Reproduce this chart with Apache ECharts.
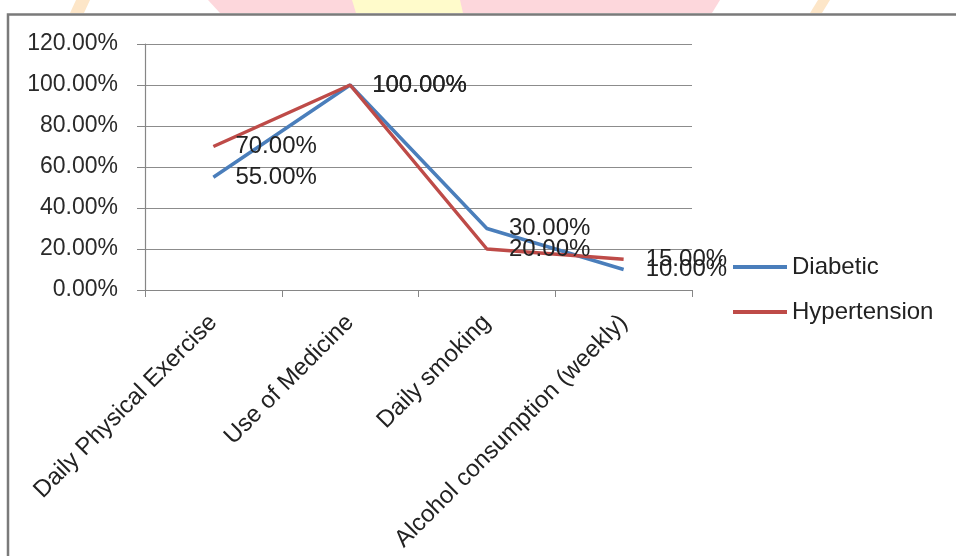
<!DOCTYPE html>
<html>
<head>
<meta charset="utf-8">
<script src="https://cdn.jsdelivr.net/npm/echarts@6/dist/echarts.min.js"></script>
<style>
  html, body { margin: 0; padding: 0; background: #fff; }
  #chart { width: 956px; height: 556px; }
</style>
</head>
<body>
<div id="chart"></div>
<script>
// categories and values (percent)
var categories = ['Daily Physical Exercise', 'Use of Medicine', 'Daily smoking', 'Alcohol consumption (weekly)']
var diabetic = [55, 100, 30, 10]
var hypertension = [70, 100, 20, 15]
var yTicks = [0, 20, 40, 60, 80, 100, 120]

var FONT = 'Liberation Sans'
var pct = function (v) { return Number(v).toFixed(2) + '%' }

var chart = echarts.init(document.getElementById('chart'), null, { renderer: 'canvas' })

var lineSeries = function (name, data, color) {
  return {
    name: name,
    type: 'line',
    data: data,
    symbol: 'circle',
    symbolSize: 0.1,
    showSymbol: true,
    lineStyle: { color: color, width: 3.5 },
    itemStyle: { color: color },
    label: {
      show: true,
      position: 'right',
      distance: 22,
      offset: [0, 2],
      color: '#222',
      fontFamily: FONT,
      fontSize: 24,
      formatter: function (p) { return pct(p.value) }
    },
    labelLayout: { hideOverlap: false },
    animation: false
  }
}

chart.setOption({
  backgroundColor: '#fff',
  animation: false,
  graphic: [
    // faint watermark strip above the chart frame
    { type: 'polygon', z: -10, shape: { points: [[76, 0], [90, 0], [84, 13], [70, 13]] }, style: { fill: '#fde6c8' } },
    { type: 'polygon', z: -10, shape: { points: [[208, 0], [720, 0], [712, 13], [220, 13]] }, style: { fill: '#fdd7dc' } },
    { type: 'polygon', z: -9, shape: { points: [[352, 0], [460, 0], [463, 13], [356, 13]] }, style: { fill: '#fffbcb' } },
    { type: 'polygon', z: -10, shape: { points: [[818, 0], [830, 0], [822, 13], [810, 13]] }, style: { fill: '#fde6c8' } },
    // chart frame
    { type: 'rect', z: -5, shape: { x: 8, y: 14.5, width: 1000, height: 600 }, style: { fill: '#fff', stroke: '#7a7a7a', lineWidth: 2.5 } }
  ],
  grid: { left: 145, top: 44, width: 547, height: 246, containLabel: false },
  legend: {
    orient: 'vertical',
    left: 728,
    top: 250,
    itemWidth: 54,
    itemHeight: 4,
    itemGap: 21,
    icon: 'rect',
    textStyle: { fontFamily: FONT, fontSize: 24, color: '#222' },
    data: ['Diabetic', 'Hypertension']
  },
  xAxis: {
    type: 'category',
    data: categories,
    boundaryGap: true,
    axisLine: { lineStyle: { color: '#868686', width: 1.2 } },
    axisTick: { show: true, length: 7, lineStyle: { color: '#868686' } },
    axisLabel: {
      interval: 0,
      rotate: 45,
      margin: 29,
      color: '#222',
      fontFamily: FONT,
      fontSize: 24
    }
  },
  yAxis: {
    type: 'value',
    min: yTicks[0],
    max: yTicks[yTicks.length - 1],
    interval: 20,
    axisLine: { show: true, lineStyle: { color: '#868686', width: 1.2 } },
    axisTick: { show: true, length: 8, lineStyle: { color: '#868686' } },
    splitLine: { lineStyle: { color: '#8c8c8c', width: 1.2 } },
    axisLabel: {
      margin: 27,
      color: '#2a2a2a',
      fontFamily: FONT,
      fontSize: 23,
      formatter: pct
    }
  },
  series: [
    lineSeries('Diabetic', diabetic, '#4a7ebb'),
    lineSeries('Hypertension', hypertension, '#be4b48')
  ]
})
</script>
</body>
</html>
